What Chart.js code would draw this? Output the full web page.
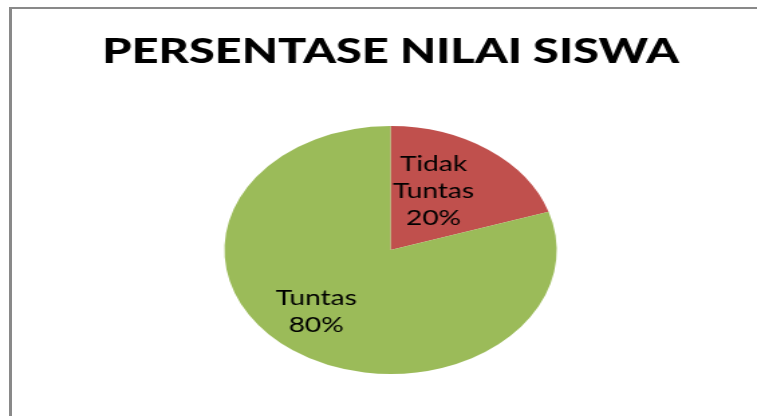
<!DOCTYPE html>
<html>
<head>
<meta charset="utf-8">
<script src="https://cdn.jsdelivr.net/npm/chart.js@4/dist/chart.umd.min.js"></script>
<style>
  html, body { margin: 0; padding: 0; background: #fff; overflow: hidden; }
  body { width: 757px; height: 416px; position: relative; }
  #frame { position: absolute; left: 9px; top: 7px; width: 760px; height: 420px;
           border-left: 3px solid #898989; border-top: 2px solid #898989; box-sizing: border-box; }
  #wrap { position: absolute; left: 0; top: 0; width: 565px; height: 416px;
          transform: scaleX(1.3398); transform-origin: 0 0; }
</style>
</head>
<body>
<div id="frame"></div>
<div id="wrap"><canvas id="c"></canvas></div>
<script>
const chartTitle = "PERSENTASE NILAI SISWA";
const categories = ["Tidak Tuntas", "Tuntas"];
const labelLines = [["Tidak", "Tuntas", "20%"], ["Tuntas", "80%"]];
const values = [20, 80];
const colors = ["#C0504D", "#9BBB59"];

const sliceLabels = {
  id: 'sliceLabels',
  afterDatasetsDraw(chart, args, opts) {
    const ctx = chart.ctx;
    const meta = chart.getDatasetMeta(0);
    ctx.save();
    ctx.font = opts.font;
    ctx.fillStyle = opts.color;
    ctx.textAlign = 'center';
    ctx.textBaseline = 'middle';
    meta.data.forEach((arc, i) => {
      const p = arc.getProps(['x', 'y', 'startAngle', 'endAngle', 'outerRadius'], true);
      const mid = (p.startAngle + p.endAngle) / 2 + opts.angleShift[i] * Math.PI / 180;
      const r = p.outerRadius * opts.radiusFrac[i];
      const cx = p.x + Math.cos(mid) * r;
      const cy = p.y + Math.sin(mid) * r;
      const lines = labelLines[i];
      const lh = opts.lineHeight;
      const y0 = cy - (lines.length - 1) * lh / 2;
      lines.forEach((t, k) => ctx.fillText(t, cx, y0 + k * lh));
    });
    ctx.restore();
  }
};

new Chart(document.getElementById('c'), {
  type: 'pie',
  data: {
    labels: categories,
    datasets: [{
      data: values,
      backgroundColor: colors,
      borderWidth: 0
    }]
  },
  options: {
    responsive: true,
    maintainAspectRatio: false,
    animation: false,
    layout: { padding: { left: 18, right: 0, top: 0, bottom: 42 } },
    plugins: {
      legend: { display: false },
      tooltip: { enabled: false },
      title: {
        display: true,
        text: chartTitle,
        color: '#000',
        font: { family: 'Lato', size: 35, weight: '900', lineHeight: 1.2 },
        padding: { top: 31, bottom: 53 }
      },
      sliceLabels: {
        font: '21px Lato',
        color: '#000',
        lineHeight: 27,
        radiusFrac: [0.542, 0.669],
        angleShift: [-7.5, 6]
      }
    }
  },
  plugins: [sliceLabels]
});
</script>
</body>
</html>
